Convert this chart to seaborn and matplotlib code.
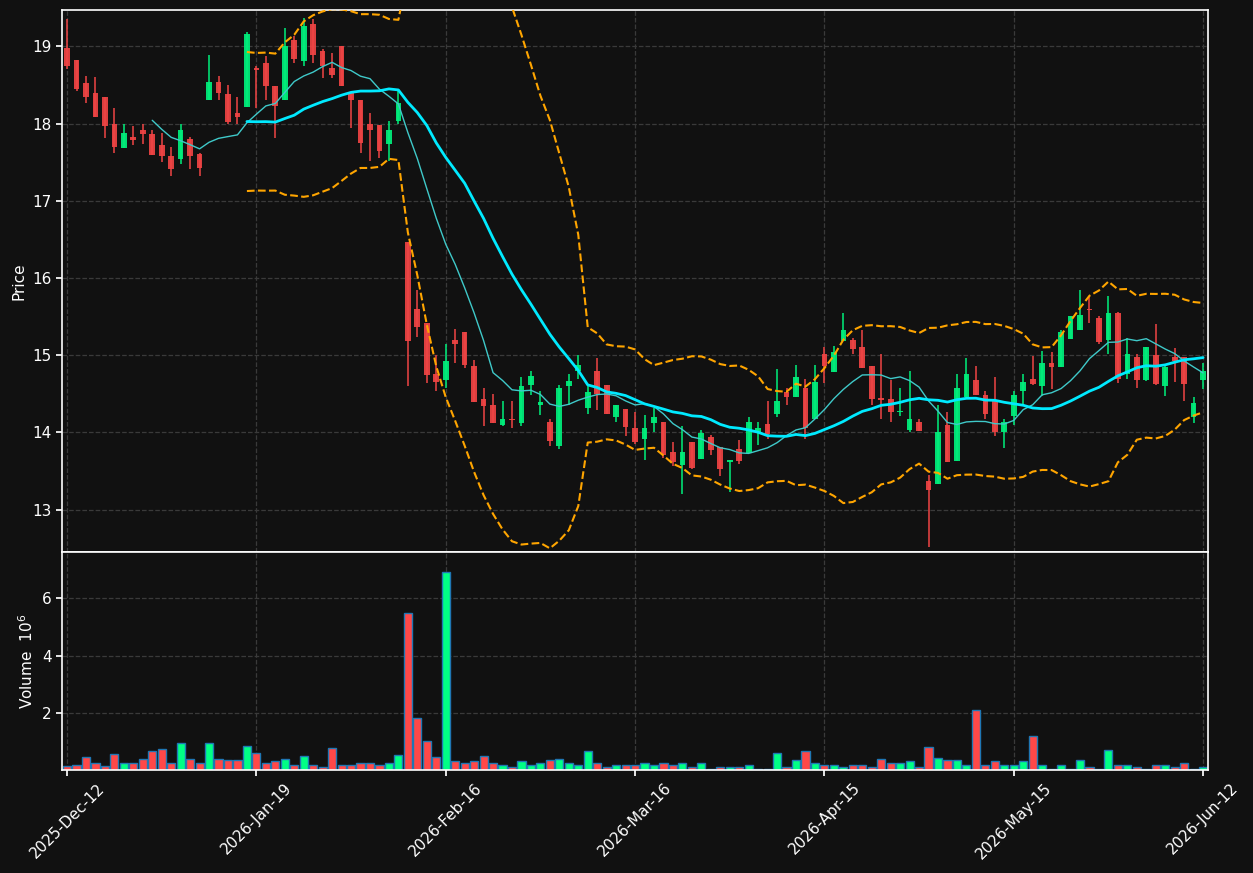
import numpy as np
import pandas as pd
import matplotlib
matplotlib.use("Agg")
import matplotlib.pyplot as plt
import seaborn as sns

# daily OHLC (one entry per trading day)
opens = [18.98, 18.82, 18.53, 18.40, 18.35, 18.00, 17.68, 17.82, 17.92, 17.87,
         17.72, 17.58, 17.54, 17.80, 17.60, 18.30, 18.54, 18.38, 18.13, 18.21,
         18.72, 18.78, 18.48, 18.31, 19.08, 18.81, 19.29, 18.94, 18.72, 19.00,
         18.40, 18.31, 18.00, 17.98, 17.73, 18.03, 16.46, 15.60, 15.42, 14.75,
         14.68, 15.19, 15.30, 14.86, 14.43, 14.36, 14.09, 14.17, 14.12, 14.61,
         14.35, 14.13, 13.82, 14.60, 14.79, 14.32, 14.79, 14.61, 14.20, 14.30,
         14.06, 13.91, 14.12, 14.13, 13.74, 13.58, 13.88, 13.66, 13.94, 13.81,
         13.62, 13.78, 13.73, 14.00, 14.11, 14.24, 14.52, 14.46, 14.58, 14.17,
         15.02, 14.78, 15.18, 15.20, 15.11, 14.86, 14.44, 14.43, 14.26, 14.03,
         14.13, 13.37, 13.33, 14.10, 13.63, 14.46, 14.68, 14.48, 14.40, 14.00,
         14.21, 14.53, 14.69, 14.60, 14.90, 14.85, 15.21, 15.33, 15.59, 15.48,
         15.20, 15.55, 14.75, 14.97, 14.68, 15.00, 14.60, 14.97, 14.97, 14.20,
         14.68]
highs = [19.36, 18.82, 18.61, 18.60, 18.35, 18.20, 18.00, 17.97, 18.00, 17.91,
         17.88, 17.70, 17.99, 17.82, 17.62, 18.89, 18.61, 18.50, 18.35, 19.19,
         18.75, 18.88, 18.48, 19.24, 19.14, 19.37, 19.35, 18.96, 18.91, 19.00,
         18.40, 18.31, 18.14, 17.98, 18.03, 18.42, 16.46, 15.85, 15.42, 15.00,
         15.15, 15.34, 15.30, 14.94, 14.58, 14.50, 14.40, 14.40, 14.72, 14.79,
         14.54, 14.17, 14.61, 14.76, 15.00, 14.61, 14.96, 14.61, 14.36, 14.30,
         14.26, 14.22, 14.32, 14.13, 13.88, 14.08, 13.88, 14.03, 13.96, 13.81,
         13.64, 13.90, 14.20, 14.14, 14.40, 14.82, 14.57, 14.87, 14.69, 14.87,
         15.11, 15.12, 15.55, 15.22, 15.32, 14.86, 15.02, 14.68, 14.57, 14.79,
         14.17, 13.45, 14.35, 14.26, 14.75, 14.96, 14.86, 14.54, 14.72, 14.17,
         14.53, 14.76, 14.99, 15.05, 15.04, 15.32, 15.51, 15.84, 15.75, 15.51,
         15.77, 15.56, 15.22, 15.01, 15.11, 15.40, 14.86, 15.09, 14.97, 14.46,
         14.90]
lows = [18.71, 18.42, 18.26, 18.09, 17.81, 17.62, 17.68, 17.72, 17.73, 17.59,
        17.50, 17.32, 17.48, 17.41, 17.32, 18.30, 18.31, 17.99, 17.99, 18.21,
        18.20, 18.31, 17.81, 18.31, 18.78, 18.74, 18.79, 18.59, 18.59, 18.48,
        17.94, 17.62, 17.52, 17.55, 17.52, 18.00, 14.60, 15.23, 14.64, 14.54,
        14.57, 14.90, 14.83, 14.39, 14.08, 14.12, 14.08, 14.06, 14.08, 14.48,
        14.22, 13.82, 13.78, 14.36, 14.69, 14.24, 14.29, 14.24, 14.13, 13.95,
        13.85, 13.64, 14.00, 13.67, 13.56, 13.20, 13.52, 13.66, 13.70, 13.44,
        13.23, 13.59, 13.73, 13.84, 13.92, 14.20, 14.36, 14.46, 13.92, 14.17,
        14.64, 14.78, 15.18, 15.02, 14.83, 14.36, 14.17, 14.13, 14.21, 14.00,
        14.02, 12.51, 13.33, 13.61, 13.63, 14.46, 14.49, 14.17, 13.95, 13.80,
        14.10, 14.35, 14.61, 14.47, 14.56, 14.84, 15.21, 15.33, 15.41, 15.15,
        15.02, 14.64, 14.69, 14.58, 14.66, 14.61, 14.47, 14.65, 14.40, 14.12,
        14.56]
closes = [18.75, 18.45, 18.35, 18.09, 17.97, 17.69, 17.88, 17.79, 17.86, 17.59,
          17.58, 17.41, 17.91, 17.58, 17.43, 18.54, 18.39, 18.02, 18.08, 19.16,
          18.69, 18.48, 18.23, 19.01, 18.84, 19.26, 18.89, 18.74, 18.63, 18.48,
          18.30, 17.75, 17.91, 17.65, 17.92, 18.27, 15.18, 15.37, 14.74, 14.65,
          14.93, 15.14, 14.87, 14.39, 14.34, 14.12, 14.17, 14.16, 14.60, 14.73,
          14.39, 13.89, 14.57, 14.66, 14.87, 14.52, 14.50, 14.24, 14.36, 14.07,
          13.87, 14.06, 14.20, 13.70, 13.61, 13.74, 13.54, 13.99, 13.77, 13.52,
          13.64, 13.63, 14.13, 14.06, 13.98, 14.40, 14.46, 14.72, 14.06, 14.65,
          14.86, 15.04, 15.33, 15.08, 14.83, 14.43, 14.42, 14.26, 14.28, 14.17,
          14.02, 13.25, 14.00, 13.61, 14.58, 14.76, 14.49, 14.24, 14.00, 14.13,
          14.48, 14.65, 14.63, 14.90, 14.85, 15.30, 15.51, 15.52, 15.58, 15.17,
          15.55, 14.69, 15.02, 14.68, 15.11, 14.63, 14.84, 14.93, 14.63, 14.38,
          14.79]
# volume in millions
volumes = [0.16, 0.21, 0.46, 0.28, 0.16, 0.56, 0.25, 0.25, 0.39, 0.67,
           0.74, 0.25, 0.95, 0.39, 0.25, 0.95, 0.39, 0.35, 0.35, 0.84,
           0.60, 0.28, 0.32, 0.39, 0.21, 0.49, 0.21, 0.13, 0.77, 0.18,
           0.21, 0.25, 0.28, 0.18, 0.28, 0.53, 5.47, 1.82, 1.02, 0.46,
           6.91, 0.32, 0.28, 0.32, 0.49, 0.25, 0.18, 0.13, 0.32, 0.21,
           0.25, 0.35, 0.39, 0.25, 0.18, 0.67, 0.28, 0.13, 0.18, 0.18,
           0.21, 0.25, 0.21, 0.25, 0.18, 0.28, 0.13, 0.25, 0.07, 0.13,
           0.13, 0.11, 0.21, 0.04, 0.07, 0.60, 0.13, 0.35, 0.67, 0.28,
           0.18, 0.21, 0.11, 0.18, 0.18, 0.13, 0.39, 0.25, 0.25, 0.32,
           0.11, 0.81, 0.42, 0.35, 0.35, 0.18, 2.09, 0.18, 0.32, 0.21,
           0.18, 0.32, 1.19, 0.18, 0.04, 0.18, 0.07, 0.35, 0.13, 0.07,
           0.70, 0.21, 0.18, 0.13, 0.07, 0.21, 0.18, 0.13, 0.25, 0.07,
           0.13]
tick_pos = [0, 20, 40, 60, 80, 100, 120]
tick_labels = ['2025-Dec-12', '2026-Jan-19', '2026-Feb-16', '2026-Mar-16',
               '2026-Apr-15', '2026-May-15', '2026-Jun-12']

df = pd.DataFrame({'Open': opens, 'High': highs, 'Low': lows,
                   'Close': closes, 'Volume': volumes})
df['idx'] = np.arange(len(df))
df['ma10'] = df['Close'].rolling(10).mean()
df['ma20'] = df['Close'].rolling(20).mean()
std20 = df['Close'].rolling(20).std(ddof=0)
df['bb_up'] = df['ma20'] + 2 * std20
df['bb_lo'] = df['ma20'] - 2 * std20

bg = '#111111'
sns.set_theme(style='dark', rc={'axes.facecolor': bg, 'figure.facecolor': bg,
                                'axes.edgecolor': 'white', 'text.color': 'white',
                                'axes.labelcolor': 'white', 'xtick.color': 'white',
                                'ytick.color': 'white'})
plt.rcParams['font.family'] = ['DejaVu Sans']

up_col = '#00f07c'
down_col = '#f04444'
is_up = df['Close'] >= df['Open']
colors = np.where(is_up, up_col, down_col)
vcolors = np.where(is_up, '#00ff85', '#ff4848')

fig = plt.figure(figsize=(12.53, 8.73), dpi=100)
ax1 = fig.add_axes([0.0495, 0.3677, 0.9146, 0.6208])
ax2 = fig.add_axes([0.0495, 0.118, 0.9146, 0.2497], sharex=ax1)

# candles
body_lo = np.minimum(df['Open'], df['Close'])
body_h = np.maximum((df['Close'] - df['Open']).abs(), 0.012)
ax1.vlines(df['idx'], df['Low'], df['High'], colors=colors, lw=1.1, zorder=2)
ax1.bar(df['idx'], body_h, bottom=body_lo, width=0.6, color=colors,
        edgecolor=colors, linewidth=0, alpha=0.92, zorder=2.5)

# moving averages and bands
sns.lineplot(data=df, x='idx', y='ma10', ax=ax1, color='#3fc9c9', lw=1.0, zorder=3)
sns.lineplot(data=df, x='idx', y='ma20', ax=ax1, color='#00eaff', lw=2.0, zorder=3)
sns.lineplot(data=df, x='idx', y='bb_up', ax=ax1, color='#ffa500', lw=1.5,
             linestyle='--', zorder=3)
sns.lineplot(data=df, x='idx', y='bb_lo', ax=ax1, color='#ffa500', lw=1.5,
             linestyle='--', zorder=3)

# volume
ax2.bar(df['idx'], df['Volume'], width=0.86, color=vcolors,
        edgecolor='#1f77b4', linewidth=1.0, zorder=2)

for ax in (ax1, ax2):
    ax.grid(True, linestyle='--', color='#3a3a3a', lw=0.9)
    ax.set_axisbelow(True)
    for sp in ax.spines.values():
        sp.set_color('white')
        sp.set_linewidth(1.2)
    ax.tick_params(axis='both', colors='white', labelsize=11, length=4,
                   direction='out', left=True, bottom=True)

ax1.set_xlim(-0.53, 120.52)
ax1.set_ylim(12.45, 19.47)
ax1.set_yticks([13, 14, 15, 16, 17, 18, 19])
ax1.set_ylabel('Price', fontsize=11)
ax1.set_xlabel('')
ax1.tick_params(axis='x', labelbottom=False, length=0)

ax2.set_ylim(0.02, 7.6)
ax2.set_yticks([2, 4, 6])
ax2.set_ylabel('Volume  $10^{6}$', fontsize=11)
ax2.set_xticks(tick_pos)
ax2.set_xticklabels(tick_labels, rotation=45, fontsize=11)
ax2.set_xlabel('')

fig.savefig('out.png', dpi=100, facecolor=bg)
